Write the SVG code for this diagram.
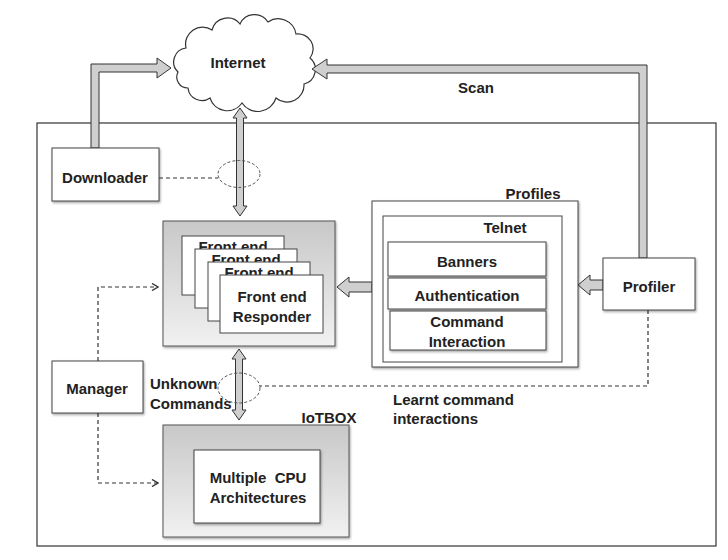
<svg xmlns="http://www.w3.org/2000/svg" width="728" height="560" viewBox="0 0 728 560">
<style>
text{font-family:"Liberation Sans",Arial,sans-serif;font-weight:bold;font-size:15px;fill:#222;}
.c{text-anchor:middle;}
.box{fill:#fff;stroke:#444;stroke-width:1;}
.gbox{fill:url(#g);stroke:#555;stroke-width:1;}
.pipe{fill:#cfcfcf;stroke:#333;stroke-width:1;stroke-linejoin:miter;}
.dash{fill:none;stroke:#333;stroke-width:1.2;stroke-dasharray:4 3;}
.ell{fill:none;stroke:#555;stroke-width:1;stroke-dasharray:3 2;}
</style>
<defs>
<linearGradient id="g" x1="0" y1="0" x2="0" y2="1">
<stop offset="0" stop-color="#c8c8c8"/>
<stop offset="1" stop-color="#f1f1f1"/>
</linearGradient>
<filter id="sh" x="-10%" y="-10%" width="130%" height="130%">
<feDropShadow dx="1" dy="1.5" stdDeviation="1" flood-color="#000" flood-opacity="0.35"/>
</filter>
<marker id="chev" markerWidth="8" markerHeight="8" refX="7" refY="4" orient="auto" markerUnits="userSpaceOnUse">
<path d="M1,0.5 L7,4 L1,7.5" fill="none" stroke="#333" stroke-width="1.4"/>
</marker>
<clipPath id="k1"><rect x="182" y="236" width="102" height="13"/></clipPath>
<clipPath id="k2"><rect x="195" y="249" width="102" height="13"/></clipPath>
<clipPath id="k3"><rect x="208" y="262" width="102" height="13"/></clipPath>
</defs>

<rect x="37" y="123" width="679" height="423" fill="none" stroke="#333" stroke-width="1.2"/>

<g id="internet">
<path d="M178,72 A14,14 0 0 1 186,48 A17,17 0 0 1 212,30 A16,16 0 0 1 240,24 A16,16 0 0 1 268,22 A18,18 0 0 1 296,34 A15,15 0 0 1 310,58 A15,15 0 0 1 304,84 A17,17 0 0 1 276,98 A19,19 0 0 1 242,103 A18,18 0 0 1 210,98 A14,14 0 0 1 188,88 A11,11 0 0 1 178,72 Z" fill="#fff" stroke="#333" stroke-width="1.2"/>
<text class="c" x="238" y="68">Internet</text>
</g>

<g id="connectors">
<polygon class="pipe" points="91,148 91,64 157,64 157,58 171,68 157,78 157,72 99,72 99,148"/>
<polygon class="pipe" points="647,258 647,65 327,65 327,59 312,69 327,79 327,73 639,73 639,258"/>
<polygon class="pipe" points="240,108 247,118 243.5,118 243.5,206 247,206 240,216 233,206 236.5,206 236.5,118 233,118"/>
<polygon class="pipe" points="239,349 246,359 242.5,359 242.5,410 246,410 239,420 232,410 235.5,410 235.5,359 232,359"/>
<polygon class="pipe" points="603,280 590,280 590,275 578,285 590,295 590,290 603,290"/>
<polygon class="pipe" points="372,282 349,282 349,277 337,287 349,297 349,292 372,292"/>
<path class="dash" d="M159,178 H218"/>
<path class="dash" d="M648,310 V386 H260"/>
<path class="dash" d="M98,361 V287 H158" marker-end="url(#chev)"/>
<path class="dash" d="M98,413 V483 H158" marker-end="url(#chev)"/>
<ellipse class="ell" cx="239" cy="174" rx="21" ry="13.5"/>
<ellipse class="ell" cx="239" cy="388" rx="21" ry="15"/>
<text x="476" y="93" class="c">Scan</text>
<text x="150" y="389">Unknown</text>
<text x="150" y="409">Commands</text>
<text x="393" y="405">Learnt command</text>
<text x="393" y="424">interactions</text>
</g>

<g id="downloader">
<rect class="box" x="52" y="148" width="107" height="53" filter="url(#sh)"/>
<text class="c" x="105" y="183">Downloader</text>
</g>

<g id="frontend">
<rect class="gbox" x="163" y="221" width="172" height="125" filter="url(#sh)"/>
<rect class="box" x="182" y="236" width="102" height="59"/>
<text class="c" x="233" y="251.5" clip-path="url(#k1)">Front end</text>
<rect class="box" x="195" y="249" width="102" height="59"/>
<text class="c" x="246" y="264.5" clip-path="url(#k2)">Front end</text>
<rect class="box" x="208" y="262" width="102" height="59"/>
<text class="c" x="259" y="277.5" clip-path="url(#k3)">Front end</text>
<rect class="box" x="220" y="275" width="103" height="58"/>
<text class="c" x="272" y="302">Front end</text>
<text class="c" x="272" y="322">Responder</text>
</g>

<g id="profiles">
<rect class="box" x="372" y="201" width="206" height="166" filter="url(#sh)"/>
<text class="c" x="533" y="199">Profiles</text>
<rect class="box" x="383" y="216" width="179" height="146"/>
<text class="c" x="505" y="233">Telnet</text>
<g id="banners">
<rect class="box" x="388" y="242" width="158" height="34" filter="url(#sh)"/>
<text class="c" x="467" y="267">Banners</text>
</g>
<g id="authentication">
<rect class="box" x="388" y="278" width="158" height="31" filter="url(#sh)"/>
<text class="c" x="467" y="301">Authentication</text>
</g>
<g id="command">
<rect class="box" x="390" y="311" width="156" height="39" filter="url(#sh)"/>
<text class="c" x="467" y="327">Command</text>
<text class="c" x="467" y="347">Interaction</text>
</g>
</g>

<g id="profiler">
<rect class="box" x="603" y="258" width="92" height="52" filter="url(#sh)"/>
<text class="c" x="649" y="292">Profiler</text>
</g>

<g id="manager">
<rect class="box" x="52" y="361" width="91" height="52" filter="url(#sh)"/>
<text class="c" x="97" y="394">Manager</text>
</g>

<g id="iotbox">
<rect class="gbox" x="163" y="425" width="186" height="112" filter="url(#sh)"/>
<text class="c" x="329" y="423">IoTBOX</text>
<rect class="box" x="194" y="450" width="126" height="73" filter="url(#sh)"/>
<text class="c" x="258" y="483" xml:space="preserve" style="white-space:pre">Multiple  CPU</text>
<text class="c" x="258" y="503">Architectures</text>
</g>
</svg>
